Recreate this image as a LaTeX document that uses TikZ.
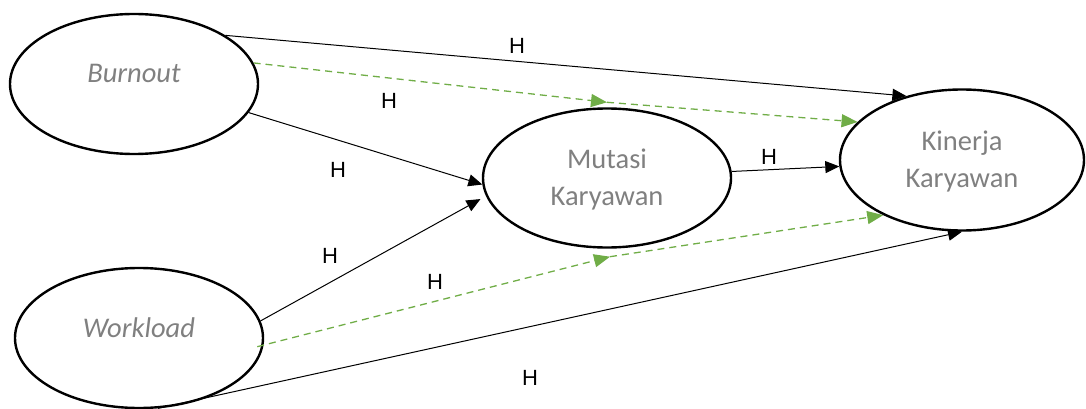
\documentclass[tikz,border=0pt]{standalone}
\usepackage{fontspec}
\setmainfont{Carlito}
\newfontfamily\labfont{Liberation Sans}
\usetikzlibrary{arrows.meta,shapes.geometric}
\definecolor{txtgray}{HTML}{808080}
\definecolor{ogreen}{HTML}{70AD47}
\begin{document}
\begin{tikzpicture}[x=1pt,y=-1pt,
  var/.style={ellipse,draw,line width=2.4pt,minimum width=248pt,minimum height=140pt,inner sep=0pt},
  vtext/.style={text=txtgray,font=\fontsize{28.5}{37}\selectfont,align=center,inner sep=0pt},
  vitext/.style={text=txtgray,font=\itshape\fontsize{28.5}{37}\selectfont,inner sep=0pt},
  lab/.style={font=\labfont\fontsize{22}{26}\selectfont,inner sep=0pt},
  conn/.style={line width=1pt,-{Triangle[length=14pt,width=12pt]}},
  med/.style={draw=ogreen,line width=1.3pt,dash pattern=on 7pt off 5pt,-{Triangle[length=16pt,width=13pt,fill=ogreen]}}]
\useasboundingbox (0,0) rectangle (1086,409);
% variables
\node[var] (b) at (134,84) {};
\node[var] (w) at (139,338) {};
\node[var,minimum height=139pt] (m) at (607,178) {};
\node[var,minimum width=244pt,minimum height=141pt] (k) at (962,160) {};
\node[vitext] (bt) at (134,73) {Burnout};
\node[vitext] (wt) at (139,328) {Workload};
\node[vtext] (mt) at (607,179) {Mutasi\\Karyawan};
\node[vtext] (kt) at (962,161) {Kinerja\\Karyawan};
% mediation waypoints
\coordinate (gm1) at ([yshift=5pt]m.north);
\coordinate (gm2) at ([xshift=3pt,yshift=-8pt]m.south);
% direct paths
\draw[conn] (b.28) -- (k.131);
\draw[conn] (b.-14) -- (m.183);
\draw[conn] (w.8) -- ([xshift=-7pt]m.190);
\draw[conn] (m.3) -- (k.183);
\draw[conn] (w.-75) -- (k.270);
% mediated paths
\draw[med] (b.10) -- (gm1);
\draw[med] (gm1) -- (k.160);
\draw[med] ([xshift=-6pt]w.-4) -- (gm2);
\draw[med] (gm2) -- (k.215);
% labels
\node[lab] (h1) at (517,46) {H};
\node[lab] (h2) at (389,101) {H};
\node[lab] (h3) at (338,170) {H};
\node[lab] (h4) at (330,256) {H};
\node[lab] (h5) at (435,282) {H};
\node[lab] (h6) at (530,378) {H};
\node[lab] (h7) at (769,157) {H};
\end{tikzpicture}
\end{document}
